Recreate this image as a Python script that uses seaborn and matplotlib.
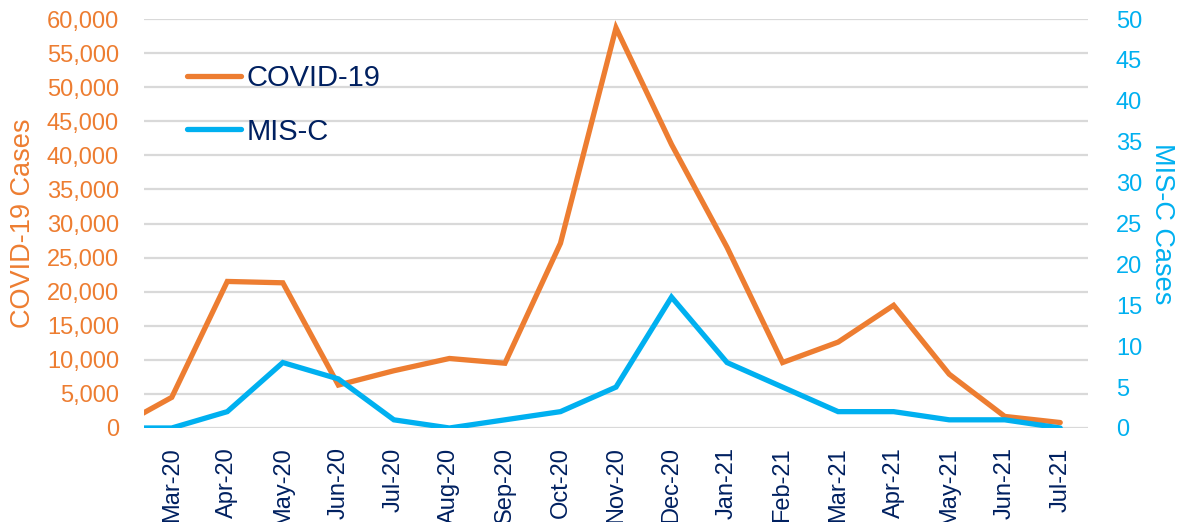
import matplotlib
matplotlib.use("Agg")
import matplotlib.pyplot as plt
import seaborn as sns
import numpy as np
import pandas as pd
from matplotlib.ticker import FuncFormatter, MultipleLocator

# ---- data ----
months = ["Feb-20", "Mar-20", "Apr-20", "May-20", "Jun-20", "Jul-20", "Aug-20", "Sep-20",
          "Oct-20", "Nov-20", "Dec-20", "Jan-21", "Feb-21", "Mar-21", "Apr-21",
          "May-21", "Jun-21", "Jul-21"]
covid_cases = [0, 4500, 21500, 21300, 6300, 8400, 10200, 9500,
               27100, 58700, 41600, 26500, 9600, 12600, 18000,
               7900, 1700, 800]
misc_cases = [0, 0, 2, 8, 6, 1, 0, 1,
              2, 5, 16, 8, 5, 2, 2,
              1, 1, 0]

ORANGE = "#ED7D31"
BLUE = "#00B0F0"
NAVY = "#002060"
GRID = "#D9D9D9"

sns.set_theme(style="white")
plt.rcParams["font.family"] = ["Liberation Sans", "DejaVu Sans"]

df = pd.DataFrame({"idx": np.arange(len(months)), "month": months,
                   "covid": covid_cases, "misc": misc_cases})

fig = plt.figure(figsize=(11.79, 5.22), dpi=100)
ax = fig.add_axes([144/1179, (522-428)/522, (1088-144)/1179, (428-19)/522])
ax2 = ax.twinx()

sns.lineplot(data=df, x="idx", y="covid", ax=ax, color=ORANGE, linewidth=3.8,
             solid_joinstyle="miter", legend=False)
sns.lineplot(data=df, x="idx", y="misc", ax=ax2, color=BLUE, linewidth=3.8,
             solid_joinstyle="miter", legend=False)

ax.set_xlim(0.5, len(months) - 0.5)
ax.set_ylim(0, 60000)
ax2.set_ylim(0, 50)
ax.yaxis.set_major_locator(MultipleLocator(5000))
ax2.yaxis.set_major_locator(MultipleLocator(5))
ax.yaxis.set_major_formatter(FuncFormatter(lambda v, p: f"{int(v):,}"))

ax.set_xticks(df["idx"][1:])
ax.set_xticklabels(months[1:], rotation=90, color=NAVY, fontsize=17)

ax.grid(axis="y", color=GRID, linewidth=1.6)
ax.grid(axis="x", visible=False)
ax2.grid(False)
for a in (ax, ax2):
    for s in a.spines.values():
        s.set_visible(False)

ax.tick_params(axis="y", length=0, pad=18, labelsize=17, labelcolor=ORANGE)
ax.tick_params(axis="x", length=0, pad=14)
ax2.tick_params(axis="y", length=0, pad=20, labelsize=17, labelcolor=BLUE)

ax.set_xlabel("")
ax.set_ylabel("COVID-19 Cases", color=ORANGE, fontsize=19.5, labelpad=8)
ax2.set_ylabel("MIS-C Cases", color=BLUE, fontsize=19.5, rotation=270, labelpad=24)

h1 = ax.get_lines()[0]
h2 = ax2.get_lines()[0]
leg = ax2.legend([h1, h2], ["COVID-19", "MIS-C"], loc="upper left",
                 bbox_to_anchor=(187/1179, 1 - 64/522), bbox_transform=fig.transFigure,
                 frameon=False, fontsize=21, handlelength=1.85, handletextpad=0.2,
                 labelspacing=0.88, borderaxespad=0, borderpad=0)
for t in leg.get_texts():
    t.set_color(NAVY)

fig.savefig("out.png", dpi=100)
